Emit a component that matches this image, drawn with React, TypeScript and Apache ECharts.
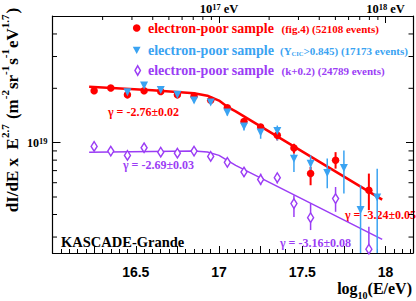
import React, { useEffect, useRef } from 'react';
import * as echarts from 'echarts';

// ---------- data ----------
const redLogE = [16.25, 16.35, 16.45, 16.55, 16.65, 16.75, 16.85, 16.95, 17.05, 17.15, 17.25, 17.35, 17.45, 17.55, 17.7, 17.9];
const redFlux = [1.94e19, 2.01e19, 1.84e19, 1.94e19, 1.92e19, 1.84e19, 1.81e19, 1.72e19, 1.56e19, 1.31e19, 1.22e19, 1.10e19, 0.935e19, 0.674e19, 0.798e19, 0.545e19];
const redLow = [1.92e19, 1.99e19, 1.82e19, 1.92e19, 1.90e19, 1.82e19, 1.79e19, 1.70e19, 1.53e19, 1.27e19, 1.17e19, 1.03e19, 0.869e19, 0.581e19, 0.718e19, 0.423e19];
const redHigh = [1.96e19, 2.03e19, 1.86e19, 1.96e19, 1.94e19, 1.86e19, 1.83e19, 1.74e19, 1.59e19, 1.35e19, 1.27e19, 1.17e19, 0.986e19, 0.733e19, 0.886e19, 0.674e19];

const blueLogE = [16.45, 16.55, 16.65, 16.75, 16.85, 16.95, 17.05, 17.15, 17.25, 17.35, 17.45, 17.55, 17.65, 17.75, 17.85, 17.95];
const blueFlux = [1.90e19, 2.07e19, 1.96e19, 1.84e19, 1.71e19, 1.67e19, 1.47e19, 1.23e19, 1.14e19, 1.16e19, 0.815e19, 0.765e19, 0.679e19, 0.723e19, 0.423e19, 0.497e19];
const blueLow = [1.86e19, 2.02e19, 1.92e19, 1.80e19, 1.67e19, 1.63e19, 1.413e19, 1.168e19, 1.051e19, 1.028e19, 0.688e19, 0.643e19, 0.559e19, 0.523e19, 0.2e19, 0.2e19];
const blueHigh = [1.94e19, 2.12e19, 2.00e19, 1.88e19, 1.75e19, 1.71e19, 1.524e19, 1.297e19, 1.193e19, 1.244e19, 0.869e19, 0.850e19, 0.818e19, 0.906e19, 0.581e19, 0.718e19];

const purpleLogE = [16.25, 16.35, 16.45, 16.55, 16.65, 16.75, 16.85, 16.95, 17.05, 17.15, 17.25, 17.35, 17.45, 17.55, 17.7, 17.9];
const purpleFlux = [0.953e19, 0.898e19, 0.850e19, 0.937e19, 0.886e19, 0.875e19, 0.898e19, 0.839e19, 0.778e19, 0.688e19, 0.625e19, 0.640e19, 0.460e19, 0.384e19, 0.490e19, 0.257e19];
const purpleLow = [0.94e19, 0.885e19, 0.838e19, 0.924e19, 0.873e19, 0.862e19, 0.885e19, 0.826e19, 0.749e19, 0.645e19, 0.581e19, 0.594e19, 0.388e19, 0.328e19, 0.414e19, 0.2e19];
const purpleHigh = [0.966e19, 0.911e19, 0.862e19, 0.95e19, 0.899e19, 0.888e19, 0.911e19, 0.852e19, 0.815e19, 0.718e19, 0.674e19, 0.674e19, 0.511e19, 0.460e19, 0.568e19, 0.342e19];

const redFitLogE = [16.22, 16.6, 16.85, 16.93, 17.0, 17.05, 17.1, 17.98];
const redFitFlux = [2.04e19, 1.95e19, 1.88e19, 1.82e19, 1.71e19, 1.58e19, 1.49e19, 0.484e19];
const purpleFitLogE = [16.22, 16.85, 16.93, 17.0, 17.05, 17.1, 17.98];
const purpleFitFlux = [0.886e19, 0.9e19, 0.888e19, 0.85e19, 0.798e19, 0.749e19, 0.291e19];

const xTickLabels = [16.5, 17, 17.5, 18];
const topTickLabels = [17, 18];
const yTickLabels = [1e19];
const yMinorTicks = [3e18, 4e18, 5e18, 6e18, 7e18, 8e18, 9e18, 2e19, 3e19, 4e19];
const topMinorTicks = [2e16, 3e16, 4e16, 5e16, 6e16, 7e16, 8e16, 9e16, 2e17, 3e17, 4e17, 5e17, 6e17, 7e17, 8e17, 9e17];

const RED = '#ff0000';
const BLUE = '#3aa3f2';
const PURPLE = '#9b3df5';
const SERIF = 'Liberation Serif';
const sf = (size: number) => `bold ${size}px "${SERIF}", serif`;

const X_MIN = 16;
const X_MAX = 18.165;
const Y_MIN = 2.448e18;
const Y_MAX = 5.03e19;

function errorBars(name: string, xs: number[], lo: number[], hi: number[], color: string, width: number) {
  return {
    type: 'custom',
    name,
    silent: true,
    clip: true,
    z: 3,
    data: xs.map((x, i) => [x, lo[i], hi[i]]),
    encode: { x: 0, y: [1, 2] },
    renderItem: (params: any, api: any) => {
      const a = api.coord([api.value(0), api.value(1)]);
      const b = api.coord([api.value(0), api.value(2)]);
      return {
        type: 'line',
        shape: { x1: a[0], y1: a[1], x2: b[0], y2: b[1] },
        style: { stroke: color, lineWidth: width },
      };
    },
  };
}

const near = (a: number, b: number) => Math.abs(a - b) < 1e-6 * Math.max(1, Math.abs(b));

function txt(text: string, x: number, y: number, size: number, fill: string, extra: any = {}) {
  return { type: 'text', x, y, style: { text, fill, font: sf(size), verticalAlign: 'middle', ...extra } };
}

type Piece = [string, number, number]; // text, font size, vertical offset

export default function App() {
  const ref = useRef<HTMLDivElement>(null);
  useEffect(() => {
    document.body.style.margin = '0';
    if (!ref.current) return;
    const ctx = document.createElement('canvas').getContext('2d') as CanvasRenderingContext2D;
    const measure = (t: string, size: number) => {
      ctx.font = sf(size);
      return ctx.measureText(t).width;
    };
    // lay pieces of text one after another (super/subscripts)
    const seq = (pieces: Piece[], fill: string, gap = 0) => {
      let x = 0;
      const children: any[] = [];
      pieces.forEach(([t, size, dy]) => {
        children.push({ type: 'text', x, y: dy, style: { text: t, fill, font: sf(size), verticalAlign: 'middle' } });
        x += measure(t, size) + (dy !== 0 ? gap : 0);
      });
      return { children, total: x };
    };

    const row2 = seq([['(Y', 11, 0], ['CIC', 6.5, 2.5], ['>0.845) (17173 events)', 11, 0]], BLUE);
    const xTitle = seq([['log', 16, 0], ['10', 10, 7], ['(E/eV)', 16, 0]], '#000');
    const yTitle = seq(
      [
        ['dI/dE x  E', 17, 0], ['2.7', 11, -8], [' (m', 17, 0], ['-2', 11, -8], ['sr', 17, 0], ['-1', 11, -8],
        ['s', 17, 0], ['-1', 11, -8], ['eV', 17, 0], ['1.7', 11, -8], [')', 17, 0],
      ],
      '#000',
      1,
    );

    const chart = echarts.init(ref.current, undefined, { renderer: 'svg' });
    const axisLine = { show: true, lineStyle: { color: '#000', width: 1.2 } };
    const option: any = {
      animation: false,
      backgroundColor: '#fff',
      grid: { left: 52.5, top: 15, width: 360.5, height: 238, containLabel: false },
      xAxis: [
        {
          type: 'value', position: 'bottom', min: X_MIN, max: X_MAX, interval: 0.05,
          axisLine, axisTick: { inside: true, length: 4, lineStyle: { color: '#000' } },
          axisLabel: { show: false }, splitLine: { show: false },
        },
        {
          type: 'value', position: 'bottom', min: X_MIN, max: X_MAX, interval: 0.25,
          axisLine: { show: false }, axisTick: { inside: true, length: 7, lineStyle: { color: '#000' } },
          axisLabel: {
            show: true, margin: 12, color: '#000', fontFamily: 'Liberation Sans', fontWeight: 'bold', fontSize: 14,
            formatter: (v: number) => (xTickLabels.some((t) => near(v, t)) ? String(Math.round(v * 10) / 10) : ''),
          },
          splitLine: { show: false },
        },
        {
          type: 'value', position: 'top', min: X_MIN, max: X_MAX, interval: 1,
          axisLine, axisTick: { inside: true, length: 7, lineStyle: { color: '#000' } },
          axisLabel: {
            show: true, margin: 1,
            formatter: (v: number) => (topTickLabels.some((t) => near(v, t)) ? `{m|10}{u|${Math.round(v)}}{m| eV}` : ''),
            rich: {
              m: { fontFamily: SERIF, fontWeight: 'bold', fontSize: 12.5, color: '#000', lineHeight: 13, padding: [2, 0, 0, 0], verticalAlign: 'bottom' },
              u: { fontFamily: SERIF, fontWeight: 'bold', fontSize: 8.5, color: '#000', lineHeight: 8, verticalAlign: 'top' },
            },
          },
          splitLine: { show: false },
        },
      ],
      yAxis: [
        {
          type: 'log', logBase: 10, position: 'left', min: Y_MIN, max: Y_MAX,
          axisLine, axisTick: { inside: true, length: 8, lineStyle: { color: '#000' } },
          axisLabel: {
            show: true, margin: 5,
            formatter: (v: number) => (yTickLabels.some((t) => near(v, t)) ? '{m|10}{u|19}' : ''),
            rich: {
              m: { fontFamily: SERIF, fontWeight: 'bold', fontSize: 12, color: '#000', lineHeight: 12, padding: [2, 0, 0, 0], verticalAlign: 'bottom' },
              u: { fontFamily: SERIF, fontWeight: 'bold', fontSize: 8.5, color: '#000', lineHeight: 8, verticalAlign: 'top' },
            },
          },
          splitLine: { show: false },
        },
        {
          type: 'log', logBase: 10, position: 'right', min: Y_MIN, max: Y_MAX,
          axisLine, axisTick: { inside: true, length: 7, lineStyle: { color: '#000' } },
          axisLabel: { show: false }, splitLine: { show: false },
        },
      ],
      series: [
        {
          type: 'custom', name: 'yMinor', silent: true, clip: false,
          data: yMinorTicks.map((v) => [17, v]),
          encode: { x: 0, y: 1 },
          renderItem: (params: any, api: any) => {
            const p = api.coord([api.value(0), api.value(1)]);
            const cs = params.coordSys;
            return {
              type: 'group',
              children: [
                { type: 'line', shape: { x1: cs.x, y1: p[1], x2: cs.x + 4.5, y2: p[1] }, style: { stroke: '#000', lineWidth: 1 } },
                { type: 'line', shape: { x1: cs.x + cs.width - 4.5, y1: p[1], x2: cs.x + cs.width, y2: p[1] }, style: { stroke: '#000', lineWidth: 1 } },
              ],
            };
          },
        },
        {
          type: 'custom', name: 'topMinor', silent: true, clip: false,
          data: topMinorTicks.map((e) => [Math.log10(e), 1e19]),
          encode: { x: 0, y: 1 },
          renderItem: (params: any, api: any) => {
            const p = api.coord([api.value(0), api.value(1)]);
            const cs = params.coordSys;
            return { type: 'line', shape: { x1: p[0], y1: cs.y, x2: p[0], y2: cs.y + 4 }, style: { stroke: '#000', lineWidth: 1 } };
          },
        },
        {
          type: 'line', name: 'red fit', data: redFitLogE.map((x, i) => [x, redFitFlux[i]]),
          showSymbol: false, z: 2, lineStyle: { color: RED, width: 2.5 }, silent: true,
        },
        {
          type: 'line', name: 'purple fit', data: purpleFitLogE.map((x, i) => [x, purpleFitFlux[i]]),
          showSymbol: false, z: 2, lineStyle: { color: PURPLE, width: 1.5 }, silent: true,
        },
        errorBars('red err', redLogE, redLow, redHigh, RED, 2),
        errorBars('blue err', blueLogE, blueLow, blueHigh, BLUE, 1.5),
        errorBars('purple err', purpleLogE, purpleLow, purpleHigh, PURPLE, 1.5),
        {
          type: 'scatter', name: 'electron-poor sample (fig.4)', z: 4,
          data: redLogE.map((x, i) => [x, redFlux[i]]),
          symbol: 'circle', symbolSize: 7.5, itemStyle: { color: RED, opacity: 1 },
        },
        {
          type: 'scatter', name: 'electron-poor sample (Ycic>0.845)', z: 5,
          data: blueLogE.map((x, i) => [x, blueFlux[i]]),
          symbol: 'triangle', symbolRotate: 180, symbolSize: [8, 8], itemStyle: { color: BLUE, opacity: 1 },
        },
        {
          type: 'scatter', name: 'electron-poor sample (k+0.2)', z: 4,
          data: purpleLogE.map((x, i) => [x, purpleFlux[i]]),
          symbol: 'diamond', symbolSize: [6, 9.5], itemStyle: { color: '#fff', borderColor: PURPLE, borderWidth: 1.5, opacity: 1 },
        },
      ],
      graphic: [
        // legend markers
        { type: 'circle', shape: { cx: 136.7, cy: 28, r: 3.8 }, style: { fill: RED } },
        { type: 'polygon', shape: { points: [[132.8, 46.8], [140.6, 46.8], [136.7, 54]] }, style: { fill: BLUE } },
        { type: 'polygon', shape: { points: [[137.7, 65.8], [140.4, 70.5], [137.7, 75.2], [135, 70.5]] }, style: { fill: '#fff', stroke: PURPLE, lineWidth: 1.5 } },
        // legend texts
        txt('electron-poor sample', 148, 28, 14, RED),
        txt('(fig.4) (52108 events)', 281.5, 29, 11, RED),
        txt('electron-poor sample', 148, 50, 14, BLUE),
        { type: 'group', x: 280, y: 51, children: row2.children },
        txt('electron-poor sample', 148, 70, 14, PURPLE),
        txt('(k+0.2) (24789 events)', 281.5, 71, 11, PURPLE),
        // fit annotations
        txt('γ = -2.76±0.02', 108, 112, 12, RED),
        txt('γ = -2.69±0.03', 123, 165.3, 12, PURPLE),
        txt('γ = -3.24±0.05', 345, 215.3, 12, RED),
        txt('γ = -3.16±0.08', 280, 242.7, 12, PURPLE),
        txt('KASCADE-Grande', 61, 242.3, 14.5, '#000'),
        // axis titles
        { type: 'group', x: 412 - xTitle.total, y: 288.5, children: xTitle.children },
        { type: 'group', x: 12.6, y: 110 + yTitle.total / 2, rotation: Math.PI / 2, children: yTitle.children },
      ],
    };
    chart.setOption(option);
    return () => chart.dispose();
  }, []);
  return <div ref={ref} style={{ width: 416, height: 301 }} />;
}
